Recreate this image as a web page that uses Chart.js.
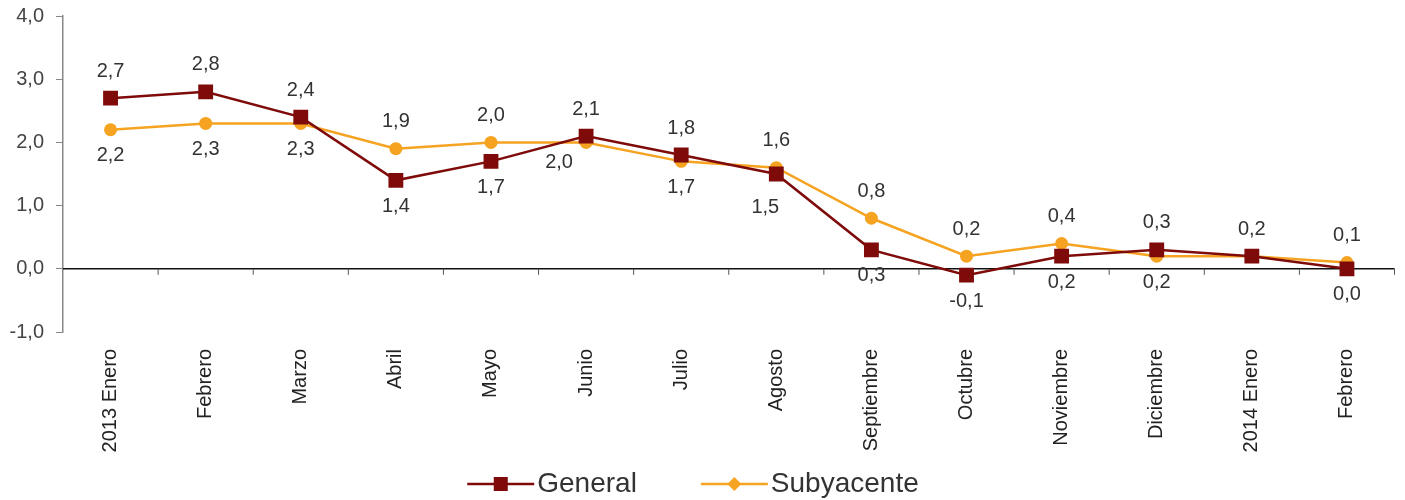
<!DOCTYPE html>
<html>
<head>
<meta charset="utf-8">
<script src="https://cdn.jsdelivr.net/npm/chart.js@4.4.1/dist/chart.umd.min.js"></script>
<style>
  html, body { margin: 0; padding: 0; background: #fff; }
  #wrap { width: 1405px; height: 500px; }
</style>
</head>
<body>
<div id="wrap"><canvas id="chart"></canvas></div>
<script>
const categories = ['2013 Enero', 'Febrero', 'Marzo', 'Abril', 'Mayo', 'Junio', 'Julio',
  'Agosto', 'Septiembre', 'Octubre', 'Noviembre', 'Diciembre', '2014 Enero', 'Febrero'];
const generalValues = [2.7, 2.8, 2.4, 1.4, 1.7, 2.1, 1.8, 1.5, 0.3, -0.1, 0.2, 0.3, 0.2, 0.0];
const subyacenteValues = [2.2, 2.3, 2.3, 1.9, 2.0, 2.0, 1.7, 1.6, 0.8, 0.2, 0.4, 0.2, 0.2, 0.1];
const yTicks = [-1, 0, 1, 2, 3, 4];

// where each value label sits relative to its point (n = hidden, overlaps the other series)
const generalLabelPos = ['a', 'a', 'a', 'b', 'b', 'a', 'a', 'bl', 'b', 'b', 'b', 'a', 'a', 'b'];
const subyacenteLabelPos = ['b', 'b', 'b', 'a', 'a', 'bl2', 'b', 'a', 'a', 'a', 'a', 'b', 'n', 'a'];

const RED = '#7f0a0a';
const ORANGE = '#f5a320';
const FONT = '"Liberation Sans", Arial, sans-serif';

function fmtComma(v) {
  return Number(v).toFixed(1).replace('.', ',');
}

const zeroLinePlugin = {
  id: 'zeroLine',
  beforeDatasetsDraw(chart) {
    const { ctx, chartArea, scales } = chart;
    const y0 = scales.y.getPixelForValue(0);
    ctx.save();
    ctx.strokeStyle = '#111';
    ctx.lineWidth = 1.5;
    ctx.beginPath();
    ctx.moveTo(chartArea.left, y0);
    ctx.lineTo(chartArea.right, y0);
    ctx.stroke();
    ctx.lineWidth = 1;
    ctx.strokeStyle = '#555';
    for (let i = 0; i < categories.length; i++) {
      const x = i < categories.length - 1
        ? (scales.x.getPixelForValue(i) + scales.x.getPixelForValue(i + 1)) / 2
        : chartArea.right;
      ctx.beginPath();
      ctx.moveTo(x, y0);
      ctx.lineTo(x, y0 + 6);
      ctx.stroke();
    }
    ctx.restore();
  },
};

const valueLabelPlugin = {
  id: 'valueLabels',
  afterDatasetsDraw(chart) {
    const { ctx } = chart;
    ctx.save();
    ctx.font = '20px ' + FONT;
    ctx.fillStyle = '#333';
    ctx.textAlign = 'center';
    ctx.textBaseline = 'middle';
    chart.data.datasets.forEach((ds, di) => {
      const meta = chart.getDatasetMeta(di);
      meta.data.forEach((pt, i) => {
        const pos = ds.labelPos[i];
        let dx = 0;
        let dy = 0;
        if (pos === 'n') return;
        if (pos === 'a') dy = -27;
        else if (pos === 'b') dy = 26;
        else if (pos === 'bl') { dx = -11; dy = 33; }
        else if (pos === 'bl2') { dx = -27; dy = 20; }
        ctx.fillText(fmtComma(ds.data[i]), pt.x + dx, pt.y + dy);
      });
    });
    ctx.restore();
  },
};

// legend drawn by hand: line + marker, then the series name
const bottomLegendPlugin = {
  id: 'bottomLegend',
  afterDraw(chart) {
    const { ctx } = chart;
    const y = 484;
    const iconW = 67;
    const gapText = 3;
    const gapItem = 64;
    ctx.save();
    ctx.font = '28px ' + FONT;
    ctx.textBaseline = 'middle';
    const items = chart.data.datasets.map((ds) => ({ ds, w: ctx.measureText(ds.label).width }));
    const total = items.reduce((s, it) => s + iconW + gapText + it.w, 0) + gapItem * (items.length - 1);
    let x = 693 - total / 2;
    items.forEach(({ ds, w }) => {
      ctx.strokeStyle = ds.borderColor;
      ctx.fillStyle = ds.borderColor;
      ctx.lineWidth = 2.5;
      ctx.beginPath();
      ctx.moveTo(x, y);
      ctx.lineTo(x + iconW, y);
      ctx.stroke();
      const cx = x + iconW / 2;
      if (ds.pointStyle === 'rect') {
        ctx.fillRect(cx - 7, y - 7, 14, 14);
      } else {
        ctx.beginPath();
        ctx.moveTo(cx, y - 7);
        ctx.lineTo(cx + 7, y);
        ctx.lineTo(cx, y + 7);
        ctx.lineTo(cx - 7, y);
        ctx.closePath();
        ctx.fill();
      }
      ctx.fillStyle = '#333';
      ctx.fillText(ds.label, x + iconW + gapText, y);
      x += iconW + gapText + w + gapItem;
    });
    ctx.restore();
  },
};

new Chart(document.getElementById('chart'), {
  type: 'line',
  data: {
    labels: categories,
    datasets: [
      {
        label: 'General',
        data: generalValues,
        labelPos: generalLabelPos,
        borderColor: RED,
        backgroundColor: RED,
        borderWidth: 2.5,
        pointStyle: 'rect',
        pointRadius: 10.5,
        pointHoverRadius: 10.5,
        pointBorderWidth: 0,
        tension: 0,
      },
      {
        label: 'Subyacente',
        data: subyacenteValues,
        labelPos: subyacenteLabelPos,
        borderColor: ORANGE,
        backgroundColor: ORANGE,
        borderWidth: 2.5,
        pointStyle: 'circle',
        pointRadius: 6.5,
        pointHoverRadius: 6.5,
        pointBorderWidth: 0,
        tension: 0,
      },
    ],
  },
  options: {
    responsive: true,
    maintainAspectRatio: false,
    animation: false,
    layout: { padding: { top: 16, right: 10, left: 0, bottom: 40 } },
    plugins: {
      tooltip: { enabled: false },
      legend: { display: false },
    },
    scales: {
      x: {
        offset: true,
        grid: { display: false },
        border: { display: false },
        ticks: {
          autoSkip: false,
          minRotation: 90,
          maxRotation: 90,
          padding: 9,
          color: '#222',
          font: { family: FONT, size: 20 },
        },
        afterFit: (scale) => {
          scale.height = 128;
          scale.paddingLeft = 0;
          scale.paddingRight = 0;
        },
      },
      y: {
        min: -1,
        max: 4,
        afterBuildTicks: (scale) => { scale.ticks = yTicks.map((v) => ({ value: v })); },
        grid: { drawOnChartArea: false, tickLength: 7, color: '#888' },
        border: { color: '#888', width: 1.5 },
        ticks: {
          padding: 12,
          color: '#444',
          font: { family: FONT, size: 20 },
          callback: (v) => fmtComma(v),
        },
        afterFit: (scale) => {
          scale.width = 63;
          scale.paddingTop = 0;
          scale.paddingBottom = 0;
        },
      },
    },
  },
  plugins: [zeroLinePlugin, valueLabelPlugin, bottomLegendPlugin],
});
</script>
</body>
</html>
